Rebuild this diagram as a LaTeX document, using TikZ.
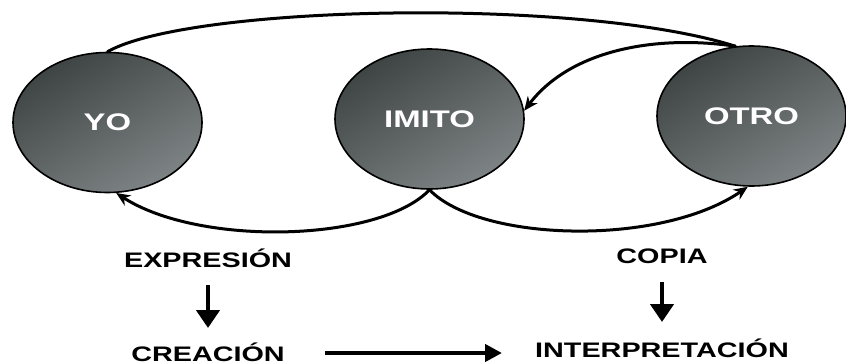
\documentclass[tikz,border=0pt]{standalone}
\usepackage{fontspec}
\usepackage{tikz}
\usetikzlibrary{shapes.geometric,arrows.meta,calc}
\newfontfamily\widefont[FakeStretch=1.37]{Liberation Sans}
\definecolor{elldark}{HTML}{3E4343}
\definecolor{elllight}{HTML}{7E8385}

\begin{document}
\begin{tikzpicture}[x=1pt, y=-1pt,
  every node/.style={font=\widefont\bfseries},
  ell/.style={ellipse, draw=black, line width=1.6pt, minimum width=189pt, minimum height=140pt,
    inner sep=0pt, top color=elldark, bottom color=elllight, shading angle=30, text=white,
    font=\widefont\bfseries\fontsize{24}{28}\selectfont},
  word/.style={anchor=base, inner sep=0pt, font=\widefont\bfseries\fontsize{21}{25}\selectfont},
  link/.style={line width=3pt, line cap=round},
  tip/.style={link, -{Stealth[length=14pt,width=12pt]}},
  down/.style={line width=4.5pt, -{Triangle[length=18pt,width=23pt]}},
  side/.style={line width=4.5pt, -{Triangle[length=17pt,width=17pt]}}]
  \useasboundingbox (0,0) rectangle (846,364);

  % Ellipses
  \node[ell] (yo) at (107.5,122.5) {YO};
  \node[ell] (imito) at (429.5,119) {IMITO};
  \node[ell] (otro) at (751.5,116) {OTRO};

  % Curves between them
  \draw[link] (yo.north) .. controls (190,5) and (580,-3) .. (otro.103);
  \draw[tip] (otro.103) .. controls (660,35) and (572,48) .. (imito.5);
  \draw[tip] (imito.south) .. controls (380,242) and (200,247) .. (yo.277);
  \draw[tip] (imito.south) .. controls (480,242) and (660,247) .. (otro.267);

  % Words below
  \node[word] (expr) at (208,267) {EXPRESIÓN};
  \node[word] (crea) at (208,361) {CREACIÓN};
  \node[word] (copia) at (662,263) {COPIA};
  \node[word] (interp) at (662,357) {INTERPRETACIÓN};

  % Arrows
  \draw[down] ($(expr.base)+(0,18)$) -- ($(crea.base)+(0,-33)$);
  \draw[down] ($(copia.base)+(0,19)$) -- ($(interp.base)+(0,-35)$);
  \draw[side] ($(crea.base east)+(40,-8)$) -- ($(interp.base west)+(-33,-4)$);
\end{tikzpicture}
\end{document}
